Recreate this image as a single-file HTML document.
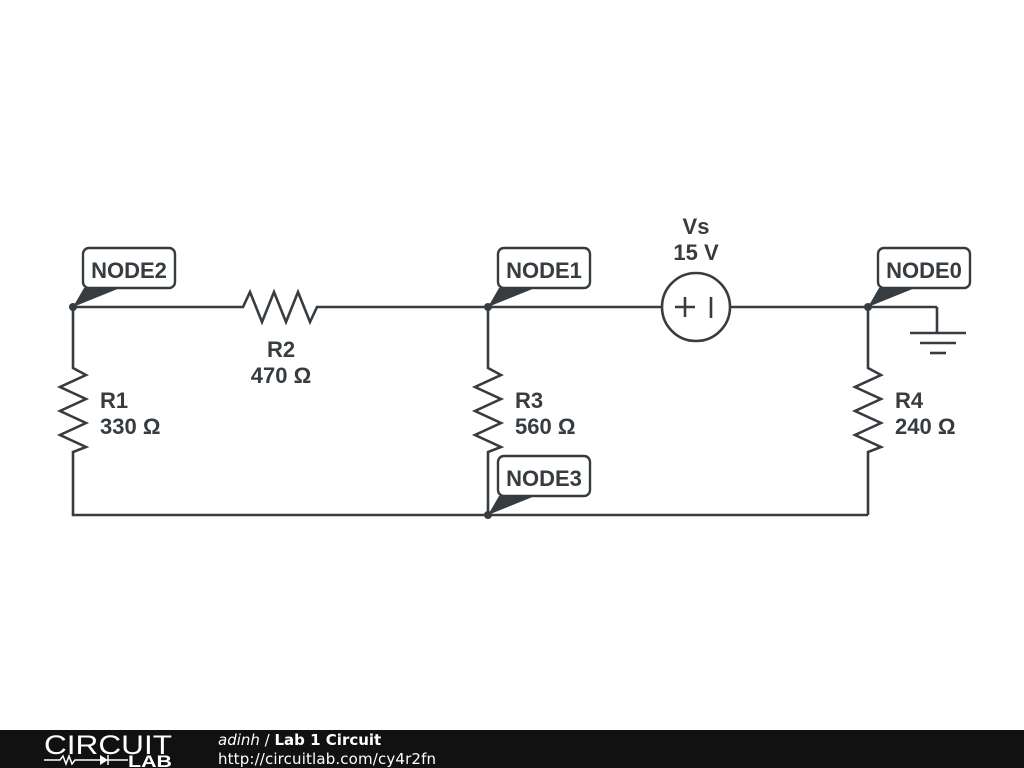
<!DOCTYPE html>
<html><head><style>
html,body{margin:0;padding:0;background:#fff;width:1024px;height:768px;overflow:hidden}
svg{display:block}
text{font-family:"Liberation Sans",sans-serif;font-weight:bold;fill:#373c40}
</style></head><body>
<svg width="1024" height="768" viewBox="0 0 1024 768">
<g stroke="#373c40" stroke-width="2.6" fill="none" stroke-linejoin="miter">
<polyline points="73,307 243,307 250,292 262,322 274,292 286,322 298,292 310,322 317,307 488,307 662,307"/>
<line x1="730" y1="307" x2="937" y2="307"/>
<polyline points="937,307 937,333"/>
<line x1="910" y1="333" x2="966" y2="333"/>
<line x1="920" y1="343" x2="956" y2="343"/>
<line x1="930" y1="353" x2="946" y2="353"/>
<circle cx="696" cy="307" r="34"/>
<line x1="675" y1="307" x2="695" y2="307"/>
<line x1="685" y1="297" x2="685" y2="317"/>
<line x1="711" y1="297" x2="711" y2="318"/>
<polyline points="73,307 73,368 86,375 60,387 86,399 60,411 86,423 60,435 86,447 73,452 73,515 868,515"/>
<polyline points="488,307 488,368 501,375 475,387 501,399 475,411 501,423 475,435 501,447 488,452 488,515"/>
<polyline points="868,307 868,368 881,375 855,387 881,399 855,411 881,423 855,435 881,447 868,452 868,515"/>
</g>
<g fill="#373c40">
<circle cx="73" cy="307" r="4"/><circle cx="488" cy="307" r="4"/><circle cx="868" cy="307" r="4"/><circle cx="488" cy="515" r="4"/>
<polygon points="73,307 84,288 120,288"/>
<polygon points="488,307 499,288 535,288"/>
<polygon points="868,307 879,288 915,288"/>
<polygon points="488,515 499,496 535,496"/>
</g>
<g fill="#fff" stroke="#373c40" stroke-width="2.4">
<rect x="83" y="248" width="92" height="40" rx="6"/>
<rect x="498" y="248" width="92" height="40" rx="6"/>
<rect x="878" y="248" width="92" height="40" rx="6"/>
<rect x="498" y="456" width="92" height="40" rx="6"/>
</g>
<g font-size="22">
<text x="129" y="278" text-anchor="middle">NODE2</text>
<text x="544" y="278" text-anchor="middle">NODE1</text>
<text x="924" y="278" text-anchor="middle">NODE0</text>
<text x="544" y="486" text-anchor="middle">NODE3</text>
<text x="281" y="357" text-anchor="middle">R2</text>
<text x="281" y="383" text-anchor="middle">470 Ω</text>
<text x="696" y="234" text-anchor="middle">Vs</text>
<text x="696" y="260" text-anchor="middle">15 V</text>
<text x="100" y="408">R1</text><text x="100" y="434">330 Ω</text>
<text x="515" y="408">R3</text><text x="515" y="434">560 Ω</text>
<text x="895" y="408">R4</text><text x="895" y="434">240 Ω</text>
</g>
<rect x="0" y="730" width="1024" height="38" fill="#111"/>
<text x="44" y="754" font-size="27" textLength="128" lengthAdjust="spacingAndGlyphs" style="fill:#fff;font-weight:normal">CIRCUIT</text>
<polyline points="44,760 60,760 63,756 66,764 69,756 72,764 75,760 100,760" stroke="#fff" stroke-width="1.5" fill="none"/>
<polygon points="100,755 100,765 108,760" fill="#fff"/>
<line x1="108" y1="755" x2="108" y2="765" stroke="#fff" stroke-width="1.5"/>
<line x1="108" y1="760" x2="128" y2="760" stroke="#fff" stroke-width="1.5"/>
<text x="128" y="767" font-size="17" textLength="44" lengthAdjust="spacingAndGlyphs" style="fill:#fff">LAB</text>
<text x="218" y="745" font-size="15" style="fill:#fff;font-family:'DejaVu Sans',sans-serif;font-weight:normal"><tspan font-style="italic">adinh</tspan> / <tspan font-weight="bold">Lab 1 Circuit</tspan></text>
<text x="218" y="764" font-size="15" textLength="218" style="fill:#fff;font-family:'DejaVu Sans',sans-serif;font-weight:normal">http://circuitlab.com/cy4r2fn</text>
</svg>
</body></html>
